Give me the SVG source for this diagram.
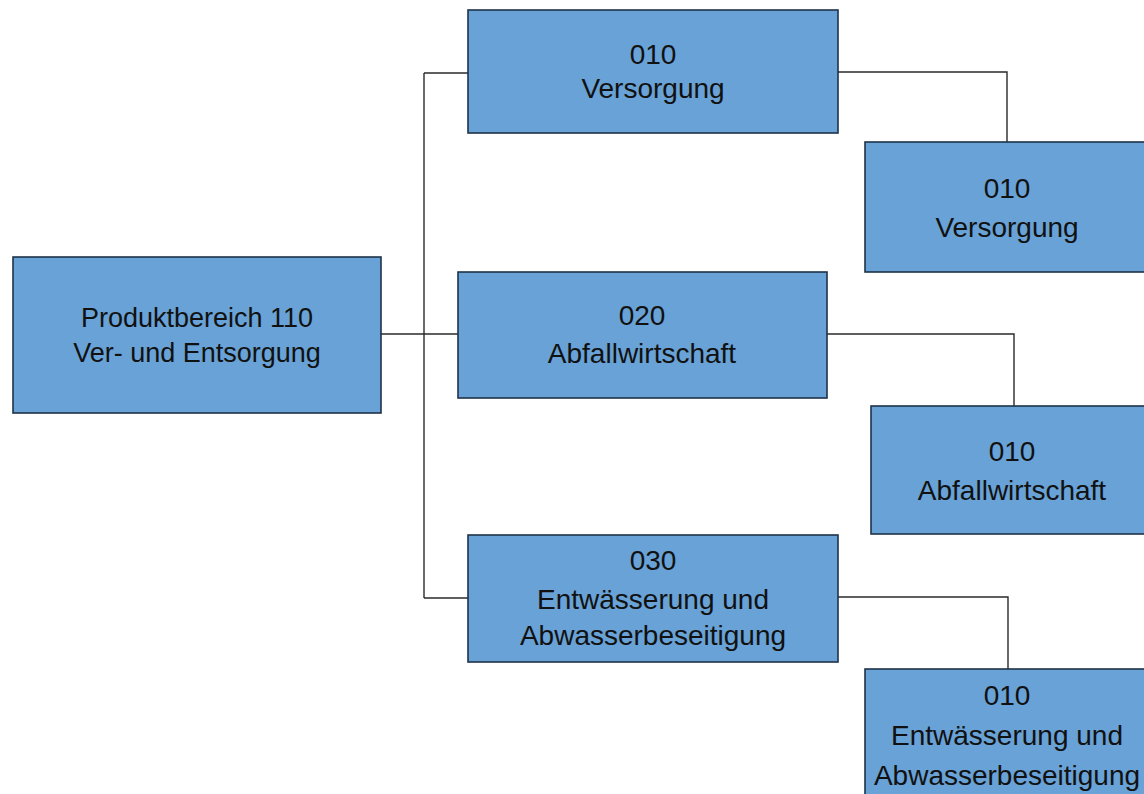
<svg xmlns="http://www.w3.org/2000/svg" width="1144" height="794" viewBox="0 0 1144 794">
<style>
.box{fill:#68A2D6;stroke:#1E3348;stroke-width:1.6}
.t{font-family:"Liberation Sans",Arial,sans-serif;font-size:28px;fill:#111;text-anchor:middle}
.c{fill:none;stroke:#2a2a2a;stroke-width:1.4}
</style>
<rect width="1144" height="794" fill="#fff"/>
<g id="connectors">
<path class="c" d="M381 334 H458"/>
<path class="c" d="M424 73 V598"/>
<path class="c" d="M424 73 H468"/>
<path class="c" d="M424 598 H468"/>
<path class="c" d="M838 72 H1007 V142"/>
<path class="c" d="M827 334 H1014 V406"/>
<path class="c" d="M838 597 H1008 V669"/>
</g>
<g id="root">
<rect class="box" x="13" y="257" width="368" height="156"/>
<text class="t" x="197" y="327" style="font-size:27px">Produktbereich 110</text>
<text class="t" x="197" y="362" style="font-size:27px">Ver- und Entsorgung</text>
</g>
<g id="n010">
<rect class="box" x="468" y="10" width="370" height="123"/>
<text class="t" x="653" y="64">010</text>
<text class="t" x="653" y="98">Versorgung</text>
</g>
<g id="n010-010">
<rect class="box" x="865" y="142" width="290" height="130"/>
<text class="t" x="1007" y="198">010</text>
<text class="t" x="1007" y="237">Versorgung</text>
</g>
<g id="n020">
<rect class="box" x="458" y="272" width="369" height="126"/>
<text class="t" x="642" y="325">020</text>
<text class="t" x="642" y="363">Abfallwirtschaft</text>
</g>
<g id="n020-010">
<rect class="box" x="871" y="406" width="290" height="128"/>
<text class="t" x="1012" y="461">010</text>
<text class="t" x="1012" y="500">Abfallwirtschaft</text>
</g>
<g id="n030">
<rect class="box" x="468" y="535" width="370" height="127"/>
<text class="t" x="653" y="570">030</text>
<text class="t" x="653" y="609">Entwässerung und</text>
<text class="t" x="653" y="645">Abwasserbeseitigung</text>
</g>
<g id="n030-010">
<rect class="box" x="865" y="669" width="290" height="140"/>
<text class="t" x="1007" y="705">010</text>
<text class="t" x="1007" y="745">Entwässerung und</text>
<text class="t" x="1007" y="785">Abwasserbeseitigung</text>
</g>
</svg>
